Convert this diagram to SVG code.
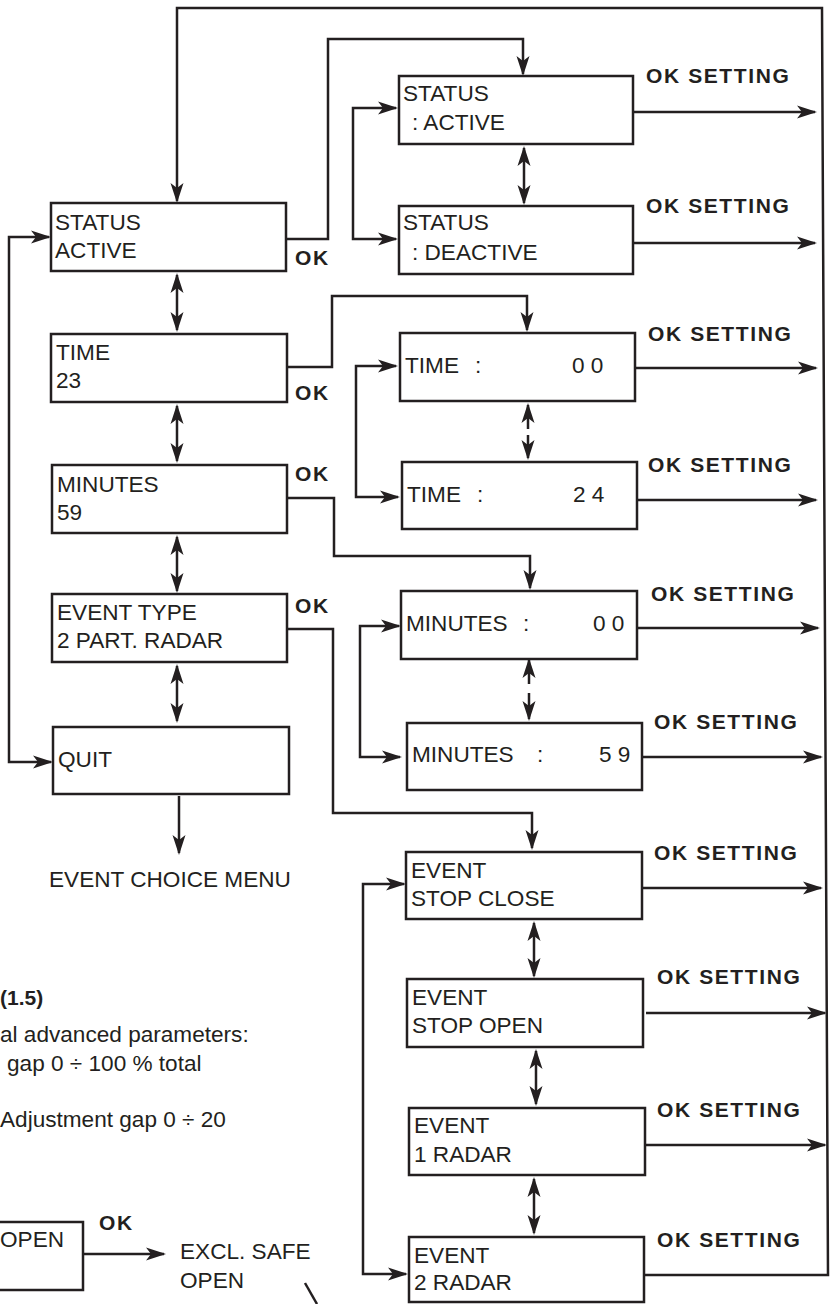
<svg xmlns="http://www.w3.org/2000/svg" width="833" height="1304" viewBox="0 0 833 1304">
<defs>
<style>
.bx{fill:#fff;stroke:#231f20;stroke-width:2.5}
.ln{fill:none;stroke:#231f20;stroke-width:2.5}
.a{marker-end:url(#ah)}
.aa{marker-start:url(#ah);marker-end:url(#ah)}
text{font-family:"Liberation Sans",Arial,Helvetica,sans-serif;fill:#231f20}
.t{font-size:22.6px}
.b{font-size:21px;font-weight:bold;letter-spacing:1.6px}
</style>
<marker id="ah" markerUnits="userSpaceOnUse" markerWidth="22" markerHeight="14" refX="18" refY="7" orient="auto-start-reverse">
<path d="M0,0.5 L20,7 L0,13.5 L5,7 z" fill="#231f20"/>
</marker>
</defs>
<rect width="833" height="1304" fill="#fff"/>

<g id="connectors">
<path class="ln a" d="M644,1275 L828,1275 L822,8 L177,8 L177,201"/>
<path class="ln a" d="M286,239 L328,239 L328,39 L523,39 L523,74"/>
<path class="ln aa" d="M396,108 L353,108 L353,239 L396,239"/>
<path class="ln a" d="M633,112 L815,112"/>
<path class="ln a" d="M633,243 L815,243"/>
<path class="ln aa" d="M524,148 L524,203"/>
<path class="ln aa" d="M177,275 L177,330"/>
<path class="ln a" d="M287,367 L332,367 L332,296 L527,296 L527,330"/>
<path class="ln aa" d="M396,366 L356,366 L356,497 L398,497"/>
<path class="ln a" d="M635,368 L816,368"/>
<path class="ln a" d="M637,500 L816,500"/>
<path class="ln a" d="M528,429 L528,405"/>
<path class="ln a" d="M528,435 L528,458"/>
<path class="ln aa" d="M177,406 L177,461"/>
<path class="ln a" d="M287,498 L334,498 L334,556 L530,556 L530,588"/>
<path class="ln aa" d="M399,626 L360,626 L360,757 L400,757"/>
<path class="ln a" d="M637,628 L818,628"/>
<path class="ln a" d="M642,757 L821,757"/>
<path class="ln a" d="M529,684 L529,660"/>
<path class="ln a" d="M529,693 L529,719"/>
<path class="ln aa" d="M177,537 L177,591"/>
<path class="ln a" d="M287,629 L333,629 L333,813 L532,813 L532,848"/>
<path class="ln aa" d="M177,666 L177,721"/>
<path class="ln a" d="M179,796 L179,853"/>
<path class="ln aa" d="M49,237 L9,237 L9,762 L51,762"/>
<path class="ln a" d="M642,888 L821,888"/>
<path class="ln aa" d="M404,884 L363,884 L363,1274 L406,1274"/>
<path class="ln aa" d="M534,923 L534,976"/>
<path class="ln a" d="M646,1013 L825,1013"/>
<path class="ln aa" d="M536,1051 L536,1104"/>
<path class="ln a" d="M645,1145 L825,1145"/>
<path class="ln aa" d="M534,1179 L534,1233"/>
<path class="ln a" d="M83,1254 L164,1254"/>
<path class="ln" d="M305,1283 L317,1304"/>
</g>

<g id="n-status-active">
<rect class="bx" x="51" y="203" width="235" height="68"/>
<text class="t" x="55" y="230">STATUS</text>
<text class="t" x="55" y="258">ACTIVE</text>
</g>
<text class="b" x="295" y="265">OK</text>

<g id="n-status-sel-active">
<rect class="bx" x="399" y="76" width="234" height="68"/>
<text class="t" x="403" y="101">STATUS</text>
<text class="t" x="412" y="130">: ACTIVE</text>
</g>
<text class="b" x="646" y="83">OK SETTING</text>

<g id="n-status-sel-deactive">
<rect class="bx" x="399" y="206" width="234" height="68"/>
<text class="t" x="403" y="230">STATUS</text>
<text class="t" x="412" y="260">: DEACTIVE</text>
</g>
<text class="b" x="646" y="213">OK SETTING</text>

<g id="n-time">
<rect class="bx" x="51" y="334" width="236" height="68"/>
<text class="t" x="56" y="360">TIME</text>
<text class="t" x="56" y="388">23</text>
</g>
<text class="b" x="295" y="400">OK</text>

<g id="n-time-00">
<rect class="bx" x="400" y="333" width="235" height="68"/>
<text class="t" x="405" y="373">TIME</text>
<text class="t" x="475" y="373">:</text>
<text class="t" x="572" y="373">0 0</text>
</g>
<text class="b" x="648" y="341">OK SETTING</text>

<g id="n-time-24">
<rect class="bx" x="402" y="462" width="235" height="67"/>
<text class="t" x="407" y="502">TIME</text>
<text class="t" x="477" y="502">:</text>
<text class="t" x="573" y="502">2 4</text>
</g>
<text class="b" x="648" y="472">OK SETTING</text>

<g id="n-minutes">
<rect class="bx" x="52" y="465" width="235" height="68"/>
<text class="t" x="57" y="492">MINUTES</text>
<text class="t" x="57" y="520">59</text>
</g>
<text class="b" x="295" y="481">OK</text>

<g id="n-minutes-00">
<rect class="bx" x="401" y="591" width="236" height="68"/>
<text class="t" x="406" y="631">MINUTES</text>
<text class="t" x="523" y="631">:</text>
<text class="t" x="593" y="631">0 0</text>
</g>
<text class="b" x="651" y="601">OK SETTING</text>

<g id="n-minutes-59">
<rect class="bx" x="407" y="723" width="235" height="67"/>
<text class="t" x="412" y="762">MINUTES</text>
<text class="t" x="537" y="762">:</text>
<text class="t" x="599" y="762">5 9</text>
</g>
<text class="b" x="654" y="729">OK SETTING</text>

<g id="n-event-type">
<rect class="bx" x="52" y="594" width="235" height="68"/>
<text class="t" x="57" y="620">EVENT TYPE</text>
<text class="t" x="57" y="648">2 PART. RADAR</text>
</g>
<text class="b" x="295" y="613">OK</text>

<g id="n-quit">
<rect class="bx" x="53" y="727" width="236" height="67"/>
<text class="t" x="58" y="767">QUIT</text>
</g>

<g id="n-event-choice-menu">
<text class="t" x="49" y="887">EVENT CHOICE MENU</text>
</g>

<g id="n-stop-close">
<rect class="bx" x="406" y="852" width="236" height="67"/>
<text class="t" x="411" y="878">EVENT</text>
<text class="t" x="411" y="906">STOP CLOSE</text>
</g>
<text class="b" x="654" y="860">OK SETTING</text>

<g id="n-stop-open">
<rect class="bx" x="407" y="979" width="236" height="68"/>
<text class="t" x="412" y="1005">EVENT</text>
<text class="t" x="412" y="1033">STOP OPEN</text>
</g>
<text class="b" x="657" y="984">OK SETTING</text>

<g id="n-1-radar">
<rect class="bx" x="409" y="1108" width="236" height="67"/>
<text class="t" x="414" y="1133">EVENT</text>
<text class="t" x="414" y="1162">1 RADAR</text>
</g>
<text class="b" x="657" y="1117">OK SETTING</text>

<g id="n-2-radar">
<rect class="bx" x="409" y="1237" width="235" height="65"/>
<text class="t" x="414" y="1263">EVENT</text>
<text class="t" x="414" y="1290">2 RADAR</text>
</g>
<text class="b" x="657" y="1247">OK SETTING</text>

<g id="side-text">
<text style="font-size:21px;font-weight:bold" x="0" y="1005">(1.5)</text>
<text class="t" x="0" y="1042">al advanced parameters:</text>
<text class="t" x="7" y="1071">gap 0 ÷ 100 % total</text>
<text class="t" x="0" y="1127">Adjustment gap 0 ÷ 20</text>
</g>

<g id="n-open">
<rect class="bx" x="-10" y="1222" width="93" height="68"/>
<text class="t" x="0" y="1247">OPEN</text>
</g>
<text class="b" x="99" y="1230">OK</text>

<g id="n-excl-safe-open">
<text class="t" x="180" y="1259">EXCL. SAFE</text>
<text class="t" x="180" y="1288">OPEN</text>
</g>
</svg>
